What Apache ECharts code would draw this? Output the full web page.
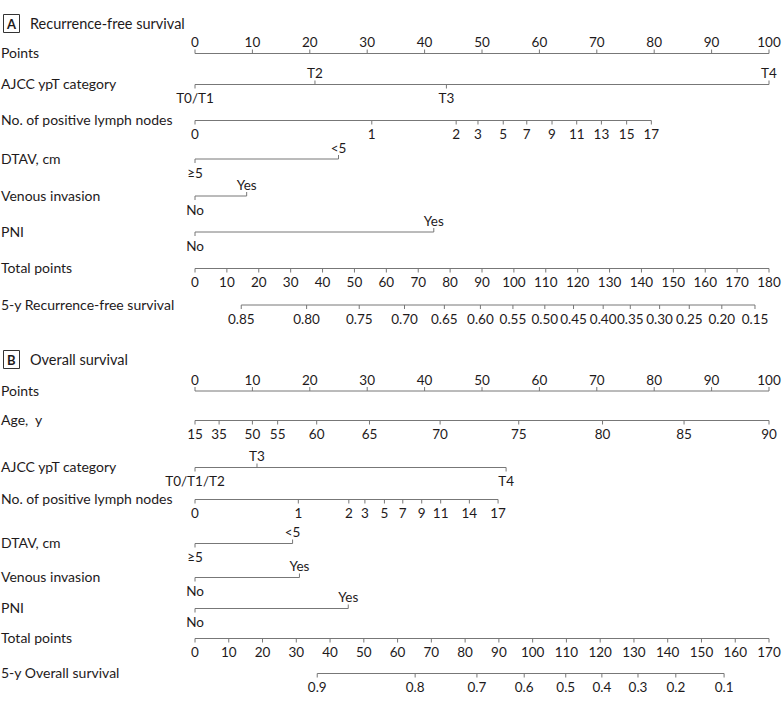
<!DOCTYPE html>
<html>
<head>
<meta charset="utf-8">
<script src="https://cdn.jsdelivr.net/npm/echarts@6/dist/echarts.min.js"></script>
<style>html,body{margin:0;padding:0;background:#fff}</style>
</head>
<body>
<div id="nomogram" style="width:783px;height:703px"></div>
<script>
// ---- data (points / total-points positions of each tick) ----
const pointsLabels = ['0', '10', '20', '30', '40', '50', '60', '70', '80', '90', '100'];
const pointsValues = [0, 10, 20, 30, 40, 50, 60, 70, 80, 90, 100];

// A. Recurrence-free survival
const ypTA_labels = ['T0/T1', 'T2', 'T3', 'T4'];
const ypTA_points = [0, 20.9, 43.8, 100];
const nodesA_labels = ['0', '1', '2', '3', '5', '7', '9', '11', '13', '15', '17'];
const nodesA_points = [0, 30.8, 45.5, 49.3, 53.7, 57.8, 62.2, 66.5, 70.8, 75.2, 79.5];
const dtavA_labels = ['≥5', '<5'];
const dtavA_points = [0, 25.0];
const venousA_labels = ['No', 'Yes'];
const venousA_points = [0, 9.0];
const pniA_labels = ['No', 'Yes'];
const pniA_points = [0, 41.6];
const totalA_labels = ['0', '10', '20', '30', '40', '50', '60', '70', '80', '90', '100', '110', '120', '130', '140', '150', '160', '170', '180'];
const totalA_values = [0, 10, 20, 30, 40, 50, 60, 70, 80, 90, 100, 110, 120, 130, 140, 150, 160, 170, 180];
const rfs_labels = ['0.85', '0.80', '0.75', '0.70', '0.65', '0.60', '0.55', '0.50', '0.45', '0.40', '0.35', '0.30', '0.25', '0.20', '0.15'];
const rfs_total = [14.5, 35.0, 51.5, 65.7, 78.2, 89.5, 99.7, 109.7, 118.7, 128.0, 136.5, 145.7, 155.0, 165.2, 175.6];

// B. Overall survival
const age_labels = ['15', '35', '50', '55', '60', '65', '70', '75', '80', '85', '90'];
const age_points = [0, 4.2, 10.0, 14.4, 21.2, 30.4, 42.7, 56.4, 71.0, 85.2, 100];
const ypTB_labels = ['T0/T1/T2', 'T3', 'T4'];
const ypTB_points = [0, 10.8, 54.2];
const nodesB_labels = ['0', '1', '2', '3', '5', '7', '9', '11', '14', '17'];
const nodesB_points = [0, 18.0, 26.8, 29.6, 33.0, 36.2, 39.5, 42.8, 47.8, 52.8];
const dtavB_labels = ['≥5', '<5'];
const dtavB_points = [0, 17.0];
const venousB_labels = ['No', 'Yes'];
const venousB_points = [0, 18.2];
const pniB_labels = ['No', 'Yes'];
const pniB_points = [0, 26.7];
const totalB_labels = ['0', '10', '20', '30', '40', '50', '60', '70', '80', '90', '100', '110', '120', '130', '140', '150', '160', '170'];
const totalB_values = [0, 10, 20, 30, 40, 50, 60, 70, 80, 90, 100, 110, 120, 130, 140, 150, 160, 170];
const os_labels = ['0.9', '0.8', '0.7', '0.6', '0.5', '0.4', '0.3', '0.2', '0.1'];
const os_total = [36.2, 65.2, 83.5, 97.5, 109.8, 120.5, 131.2, 142.4, 156.7];

// ---- layout ----
const FONT = 'Lato, "Liberation Sans", sans-serif';
const LINE = '#777';
const TEXT = '#1e1a1b';
const UP = 'up', DOWN = 'down';
const ALT = [DOWN, UP];

const panels = [
    {
        tag: 'A', heading: 'Recurrence-free survival', headY: 24, totalMax: 180,
        rows: [
            { name: 'Points', labels: pointsLabels, values: pointsValues, scale: 'points', y: 53.5, side: UP },
            { name: 'AJCC ypT category', labels: ypTA_labels, values: ypTA_points, scale: 'points', y: 84.5, side: [DOWN, UP, DOWN, UP] },
            { name: 'No. of positive lymph nodes', labels: nodesA_labels, values: nodesA_points, scale: 'points', y: 120.5, side: DOWN },
            { name: 'DTAV, cm', labels: dtavA_labels, values: dtavA_points, scale: 'points', y: 159, side: ALT },
            { name: 'Venous invasion', labels: venousA_labels, values: venousA_points, scale: 'points', y: 196, side: ALT },
            { name: 'PNI', labels: pniA_labels, values: pniA_points, scale: 'points', y: 232, side: ALT },
            { name: 'Total points', labels: totalA_labels, values: totalA_values, scale: 'total', y: 268.5, side: DOWN },
            { name: '5-y Recurrence-free survival', labels: rfs_labels, values: rfs_total, scale: 'total', y: 305, side: DOWN }
        ]
    },
    {
        tag: 'B', heading: 'Overall survival', headY: 360, totalMax: 170,
        rows: [
            { name: 'Points', labels: pointsLabels, values: pointsValues, scale: 'points', y: 391, side: UP },
            { name: 'Age,  y', labels: age_labels, values: age_points, scale: 'points', y: 420.5, side: DOWN },
            { name: 'AJCC ypT category', labels: ypTB_labels, values: ypTB_points, scale: 'points', y: 467.5, side: [DOWN, UP, DOWN] },
            { name: 'No. of positive lymph nodes', labels: nodesB_labels, values: nodesB_points, scale: 'points', y: 499.5, side: DOWN },
            { name: 'DTAV, cm', labels: dtavB_labels, values: dtavB_points, scale: 'points', y: 543.5, side: ALT },
            { name: 'Venous invasion', labels: venousB_labels, values: venousB_points, scale: 'points', y: 577.5, side: ALT },
            { name: 'PNI', labels: pniB_labels, values: pniB_points, scale: 'points', y: 608.5, side: ALT },
            { name: 'Total points', labels: totalB_labels, values: totalB_values, scale: 'total', y: 638.5, side: DOWN },
            { name: '5-y Overall survival', labels: os_labels, values: os_total, scale: 'total', y: 673.5, side: DOWN }
        ]
    }
];

let chartDom = document.getElementById('nomogram');
let myChart = echarts.init(chartDom, null, { renderer: 'svg' });

const title = [];
const grid = [];
const xAxis = [];
const yAxis = [];
const series = [];

// renders one tick + its label, on the side the label sits
function tickRenderer (row) {
    return function (params, api) {
        const p = api.coord([api.value(0), 0]);
        const side = Array.isArray(row.side) ? row.side[params.dataIndex] : row.side;
        const dir = side === UP ? -1 : 1;
        return {
            type: 'group',
            children: [
                {
                    type: 'line',
                    shape: { x1: p[0], y1: p[1], x2: p[0], y2: p[1] + dir * 4 },
                    style: { stroke: LINE, lineWidth: 1 }
                },
                {
                    type: 'text',
                    x: p[0],
                    y: p[1] + (dir < 0 ? -11.5 : 13.5),
                    style: {
                        text: row.labels[params.dataIndex],
                        fill: TEXT,
                        font: '13.5px ' + FONT,
                        align: 'center',
                        verticalAlign: 'middle'
                    }
                }
            ]
        };
    };
}

panels.forEach(function (panel) {
    // boxed panel letter + heading
    title.push({
        text: panel.tag,
        left: 3,
        top: panel.headY - 10,
        padding: [2, 4, 2, 4],
        borderWidth: 1,
        borderColor: '#333',
        textStyle: { fontSize: 13, fontWeight: 'bold', fontFamily: FONT, color: TEXT, lineHeight: 15 }
    });
    title.push({
        text: panel.heading,
        left: 30,
        top: panel.headY - 9,
        padding: 0,
        textStyle: { fontSize: 14.5, fontWeight: 'normal', fontFamily: FONT, color: TEXT, lineHeight: 17 }
    });

    panel.rows.forEach(function (row) {
        const idx = grid.length;
        title.push({
            text: row.name,
            left: 1,
            top: row.y - 9.5,
            padding: 0,
            textStyle: { fontSize: 14, fontWeight: 'normal', fontFamily: FONT, color: TEXT, lineHeight: 17 }
        });

        grid.push({ left: 195, right: 14, top: row.y - 10, height: 20 });
        xAxis.push({
            type: 'value',
            gridIndex: idx,
            min: 0,
            max: row.scale === 'points' ? 100 : panel.totalMax,
            show: false
        });
        yAxis.push({ type: 'value', gridIndex: idx, min: -1, max: 1, show: false });

        // the axis line spans first to last tick
        series.push({
            type: 'line',
            xAxisIndex: idx,
            yAxisIndex: idx,
            data: [[Math.min(...row.values), 0], [Math.max(...row.values), 0]],
            symbol: 'none',
            lineStyle: { color: LINE, width: 1 },
            silent: true
        });
        series.push({
            type: 'custom',
            xAxisIndex: idx,
            yAxisIndex: idx,
            data: row.values.map(v => [v, 0]),
            encode: { x: 0, y: 1 },
            renderItem: tickRenderer(row),
            silent: true
        });
    });
});

let option = {
    animation: false,
    backgroundColor: '#fff',
    title: title,
    grid: grid,
    xAxis: xAxis,
    yAxis: yAxis,
    series: series
};

option && myChart.setOption(option);
</script>
</body>
</html>
